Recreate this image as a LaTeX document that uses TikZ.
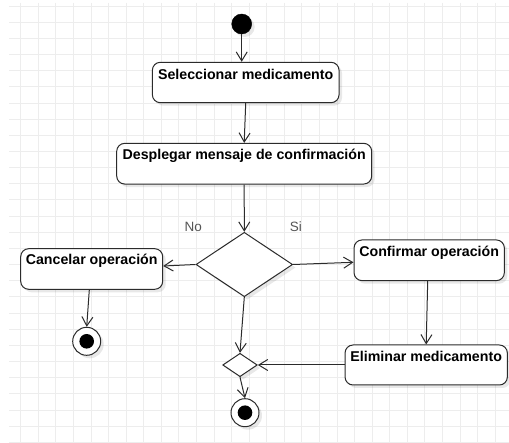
\documentclass[tikz,border=0pt]{standalone}
\usepackage{fontspec}
\setmainfont{Liberation Sans}
\usetikzlibrary{arrows.meta,shapes.geometric,shadows}
\definecolor{gridline}{HTML}{EDEDED}
\definecolor{edge}{HTML}{2B2B2B}
\definecolor{guard}{HTML}{555555}
\begin{document}
\begin{tikzpicture}[x=1pt,y=-1pt,
  softshadow/.style={drop shadow={shadow xshift=3pt,shadow yshift=-3pt,opacity=0.09,fill=black}},
  actbox/.style={draw=edge,line width=1pt,fill=white,rounded corners=8pt,inner sep=0pt,softshadow},
  acttext/.style={anchor=base,inner sep=0pt,text=black,font=\fontsize{14.2}{16}\selectfont\bfseries},
  decision/.style={draw=edge,line width=1pt,fill=white,diamond,inner sep=0pt,softshadow},
  startdot/.style={circle,fill=black,draw=black,minimum size=20pt,inner sep=0pt,softshadow},
  enddot/.style={circle,draw=edge,line width=1pt,fill=white,minimum size=28pt,inner sep=0pt,softshadow,
    path picture={\fill[black] (path picture bounding box.center) circle (7.3pt);}},
  flow/.style={draw=edge,line width=1pt,-{Straight Barb[length=9pt,width=11pt]}},
  guardtext/.style={text=guard,inner sep=0pt,anchor=base,font=\fontsize{13.5}{16}\selectfont}
]
\useasboundingbox (0,0) rectangle (509,443);
\fill[white] (0,0) rectangle (509,443);

% background grid
\foreach \k in {0,...,27}
  \draw[gridline,line width=0.9pt] ({20.7+\k*17.57},3) -- ({20.7+\k*17.57},443);
\foreach \k in {0,...,27}
  \draw[gridline,line width=0.9pt] (9,{6+\k*16.16}) -- (509,{6+\k*16.16});

% activities
\node[startdot] (start) at (241.7,24) {};
\node[actbox,minimum width=186.7pt,minimum height=40.4pt] (sel) at (245.7,82.5) {};
\node[acttext] (selT) at ([yshift=-17.5pt]sel.north) {Seleccionar medicamento};
\node[actbox,minimum width=255pt,minimum height=40.7pt] (desp) at (244.2,163.7) {};
\node[acttext] (despT) at ([yshift=-16.7pt]desp.north) {Desplegar mensaje de confirmación};
\node[decision,minimum width=96.7pt,minimum height=64.4pt] (dec) at (244.3,264.5) {};
\node[actbox,minimum width=142pt,minimum height=40.6pt] (canc) at (91.7,269) {};
\node[acttext] (cancT) at ([yshift=-16.5pt]canc.north) {Cancelar operación};
\node[actbox,minimum width=150.3pt,minimum height=40.7pt] (conf) at (429.2,260.3) {};
\node[acttext] (confT) at ([yshift=-17.2pt]conf.north) {Confirmar operación};
\node[actbox,minimum width=162.3pt,minimum height=40pt] (elim) at (426.2,365) {};
\node[acttext] (elimT) at ([yshift=-17.5pt]elim.north) {Eliminar medicamento};
\node[decision,minimum width=34.6pt,minimum height=23.4pt] (merge) at (240,365) {};
\node[enddot] (end1) at (86.7,341.3) {};
\node[enddot] (end2) at (245,412.7) {};

% guards
\node[guardtext] (no) at (193.3,231.7) {No};
\node[guardtext] (si) at (295.8,231.7) {Si};

% control flow
\draw[flow] (start.south) -- (start.south |- sel.north);
\draw[flow] (sel.south) -- (desp.north);
\draw[flow] (desp.south) -- (dec.north);
\draw[flow] (dec.west) -- ([yshift=3pt]canc.east);
\draw[flow] ([xshift=-2.4pt]canc.south) -- (end1.north);
\draw[flow] (dec.east) -- ([yshift=-2pt]conf.west);
\draw[flow] ([xshift=-1.5pt]conf.south) -- (elim.north);
\draw[flow] (elim.west) -- (merge.east);
\draw[flow] (dec.south) -- (merge.north);
\draw[flow] (merge.south) -- (end2.north);
\end{tikzpicture}
\end{document}
